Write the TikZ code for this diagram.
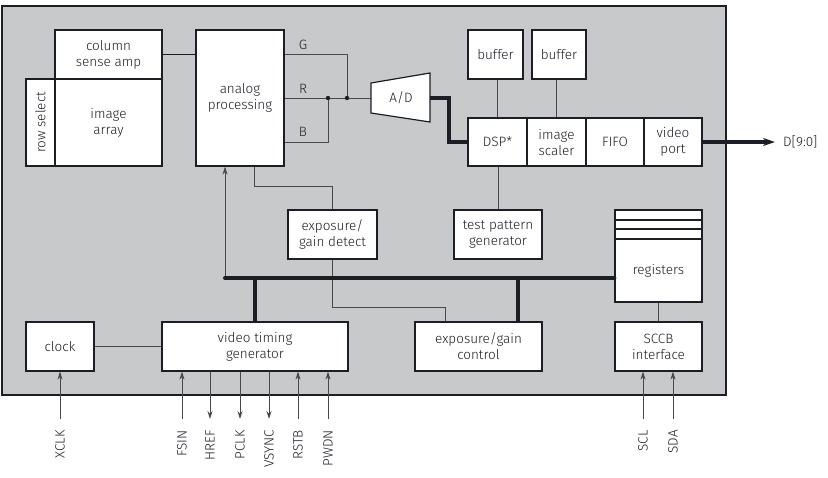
\documentclass[tikz,border=0pt]{standalone}
\usepackage{fontspec}
\setmainfont{Fira Sans}[UprightFont={* Light}]
\usetikzlibrary{arrows.meta}
\definecolor{bg}{RGB}{200,201,203}
\definecolor{ink}{RGB}{28,30,38}
\definecolor{wire}{RGB}{72,72,72}
\newcommand{\blkfont}{\fontsize{13.5}{16}\selectfont}
\begin{document}
\begin{tikzpicture}[x=1pt,y=-1pt,
  blk/.style={draw=ink, line width=1.2pt, fill=white, inner sep=0pt, align=center, font=\blkfont, text=ink},
  adshape/.style={draw=ink, line width=1.2pt, fill=white},
  conn/.style={draw=wire, line width=0.9pt},
  bus/.style={draw=ink, line width=4pt},
  tip/.style={-{Stealth[length=8pt,width=5pt]}},
  lbl/.style={font=\blkfont, text=ink, inner sep=1pt},
  pinlbl/.style={font=\blkfont, text=ink, rotate=90, anchor=east, inner sep=0pt}]
\useasboundingbox (0,0) rectangle (828,477);
% chip outline
\draw[fill=bg, draw=ink, line width=1.3pt] (2,6) rectangle (726,395);

% sensor
\node[blk, minimum width=107, minimum height=49] (colamp) at (108.5,54.5) {column\\sense amp};
\node[blk, minimum width=107, minimum height=87] (imgarr) at (108.5,122.5) {image\\array};
\node[blk, minimum width=87, minimum height=29, rotate=90] (rowsel) at (40.5,122.5) {row select};
\node[blk, minimum width=88, minimum height=136] (analog) at (240,98) {analog\\processing};
\draw[conn, draw=ink] (colamp.east) -- (colamp.east -| analog.west);

% G R B
\coordinate (jG) at (347,98);
\coordinate (jB) at (328,98);
\coordinate (adL) at (371,98);
\coordinate (adR) at (430,98);
\draw[conn] (analog.east |- 0,54) -| (jG);
\draw[conn] (analog.east |- jG) -- (adL);
\draw[conn] (analog.east |- 0,142) -| (jB);
\fill[ink] (jG) circle (2.2pt) (jB) circle (2.2pt);
\node[lbl] (lG) at (303,45) {G};
\node[lbl] (lR) at (303,89) {R};
\node[lbl] (lB) at (303,132) {B};

% A/D
\draw[adshape] (371,83) -- (430,73) -- (430,122) -- (371,113) -- cycle;
\node[lbl] (ad) at (401,98) {A/D};

% DSP chain
\node[blk, minimum width=55, minimum height=49] (buf1) at (495.5,54.5) {buffer};
\node[blk, minimum width=54, minimum height=49] (buf2) at (559,54.5) {buffer};
\node[blk, minimum width=59, minimum height=48] (dsp) at (497.5,142) {DSP*};
\node[blk, minimum width=59, minimum height=48] (scaler) at (556.5,142) {image\\scaler};
\node[blk, minimum width=58, minimum height=48] (fifo) at (615,142) {FIFO};
\node[blk, minimum width=58, minimum height=48] (vport) at (673,142) {video\\port};
\draw[bus, line join=miter] (adR) -- (449,98) |- (dsp.west);
\draw[conn] (buf1.south -| dsp.north) -- (dsp.north);
\draw[conn] (buf2.south -| scaler.north) -- (scaler.north);
\coordinate (dout) at (775,142);
\draw[bus, -{Stealth[length=12pt,width=8pt]}] (vport.east) -- (dout);
\node[lbl, anchor=west] (dlabel) at (782,142) {D[9:0]};

% middle row
\node[blk, minimum width=88, minimum height=49] (tpg) at (498,234.5) {test pattern\\generator};
\node[blk, minimum width=89, minimum height=49] (egd) at (332.5,234.5) {exposure/\\gain detect};
\draw[conn] (dsp.south -| tpg.north) -- (tpg.north);
\coordinate (a1) at (254,186);
\draw[conn] (a1 |- analog.south) -- (a1) -| (egd.north);

% registers
\node[blk, minimum width=87, minimum height=92] (regs) at (658.5,256) {};
\draw[draw=ink, line width=1.1pt] (regs.west |- 0,220) -- (regs.east |- 0,220)
  (regs.west |- 0,229) -- (regs.east |- 0,229)
  (regs.west |- 0,239) -- (regs.east |- 0,239);
\node[lbl] (regtxt) at (658.5,270.5) {registers};

% bottom row
\node[blk, minimum width=68, minimum height=49] (clock) at (60,346.5) {clock};
\node[blk, minimum width=186, minimum height=49] (vtg) at (255,346.5) {video timing\\generator};
\node[blk, minimum width=127, minimum height=49] (egc) at (478.5,346.5) {exposure/gain\\control};
\node[blk, minimum width=87, minimum height=49] (sccb) at (658.5,346.5) {SCCB\\interface};
\draw[conn] (clock.east) -- (vtg.west);
\draw[conn] (regs.south) -- (sccb.north);
\coordinate (e1) at (445,307);
\draw[conn] (egd.south) |- (e1) -- (e1 |- egc.north);

% bus
\coordinate (busL) at (225,278);
\coordinate (b2) at (518,278);
\draw[conn, tip] (busL) -- (busL |- analog.south);
\draw[bus, line cap=round] (busL) -- (busL -| regs.west);
\draw[bus] (vtg.north |- busL) -- (vtg.north);
\draw[bus] (b2) -- (b2 |- egc.north);

% pins
\coordinate (pXCLK) at (60,419);
\coordinate (pFSIN) at (182,419);
\coordinate (pHREF) at (210,419);
\coordinate (pPCLK) at (240,419);
\coordinate (pVSYNC) at (269,419);
\coordinate (pRSTB) at (298,419);
\coordinate (pPWDN) at (328,419);
\coordinate (pSCL) at (643,419);
\coordinate (pSDA) at (673,419);
\draw[conn, tip] (pXCLK) -- (pXCLK |- clock.south);
\draw[conn, tip] (pFSIN) -- (pFSIN |- vtg.south);
\draw[conn, tip] (pHREF |- vtg.south) -- (pHREF);
\draw[conn, tip] (pPCLK |- vtg.south) -- (pPCLK);
\draw[conn, tip] (pVSYNC |- vtg.south) -- (pVSYNC);
\draw[conn, tip] (pRSTB) -- (pRSTB |- vtg.south);
\draw[conn, tip] (pPWDN) -- (pPWDN |- vtg.south);
\draw[conn, tip] (pSCL) -- (pSCL |- sccb.south);
\draw[conn, tip] (pSDA) -- (pSDA |- sccb.south);
\node[pinlbl] (tXCLK) at (60,430) {XCLK};
\node[pinlbl] (tFSIN) at (182,430) {FSIN};
\node[pinlbl] (tHREF) at (210,430) {HREF};
\node[pinlbl] (tPCLK) at (240,430) {PCLK};
\node[pinlbl] (tVSYNC) at (269,430) {VSYNC};
\node[pinlbl] (tRSTB) at (298,430) {RSTB};
\node[pinlbl] (tPWDN) at (328,430) {PWDN};
\node[pinlbl] (tSCL) at (643,430) {SCL};
\node[pinlbl] (tSDA) at (673,430) {SDA};
\end{tikzpicture}
\end{document}
